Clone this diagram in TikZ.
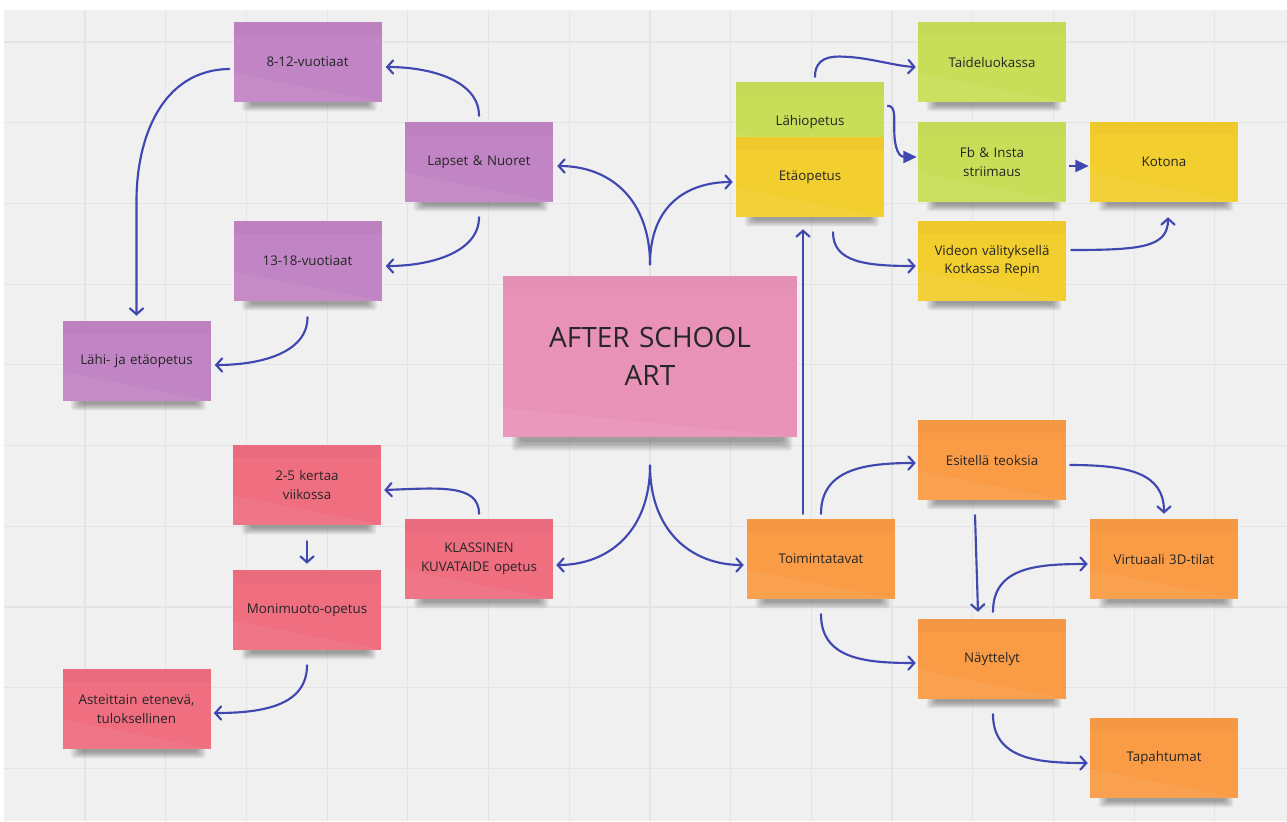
\documentclass[tikz,border=0pt]{standalone}
\usepackage{fontspec}
\setmainfont{Open Sans}
\usetikzlibrary{arrows.meta,calc}
\definecolor{bgc}{HTML}{F0F0F0}
\definecolor{gridc}{HTML}{E4E4E4}
\definecolor{purplec}{HTML}{C184C4}
\definecolor{pinkc}{HTML}{E992B8}
\definecolor{greenc}{HTML}{C8DE58}
\definecolor{yellowc}{HTML}{F2CE2E}
\definecolor{orangec}{HTML}{FA9C46}
\definecolor{redc}{HTML}{EF6E80}
\definecolor{arrowc}{HTML}{4047B0}
\definecolor{textc}{HTML}{262626}
\pgfdeclarelayer{bglayer}
\pgfdeclarelayer{shlayer}
\pgfsetlayers{bglayer,shlayer,main}
\newcommand\noteshadow[2][1]{%
  \foreach \k in {0,...,6} {%
    \fill[black, opacity=0.055, rounded corners=2pt]
      ($(#2.south west)+(9+1.5*\k,-6)$) rectangle ($(#2.south east)+(-5-1.5*\k,{#1*(9-\k)})$);
  }%
}
\begin{document}
\begin{tikzpicture}[x=0.75pt,y=-0.75pt,
  note/.style={rectangle, minimum width=111pt, minimum height=60pt, inner sep=2pt,
    text width=104pt, align=center, font=\fontsize{10}{14}\selectfont, text=textc,
    path picture={\fill[black,opacity=0.018] (path picture bounding box.north west) rectangle ([yshift=-10pt]path picture bounding box.north east);
      \fill[white,opacity=0.06] (path picture bounding box.south west) -- ([yshift=22pt]path picture bounding box.south west) -- (path picture bounding box.south east) -- cycle;}},
  bignote/.style={note, minimum width=220.5pt, minimum height=121pt, text width=200pt,
    font=\fontsize{21}{28.5}\selectfont},
  arr/.style={draw=arrowc, line width=1.6pt, line cap=round, -{Straight Barb[length=4.5pt,width=10pt,line cap=round]}},
  farr/.style={draw=arrowc, line width=1.6pt, -{Triangle[length=10pt,width=9pt]}},
  gridline/.style={draw=gridc, line width=0.9pt}]
\useasboundingbox (0,0) rectangle (1287,821);
\begin{pgfonlayer}{bglayer}
\fill[white] (0,0) rectangle (1287,821);
\fill[bgc] (4,10) rectangle (1287,821);
\foreach \i in {0,...,14} \draw[gridline] ({85+80.7*\i},10) -- ({85+80.7*\i},821);
\foreach \j in {0,...,9} \draw[gridline] (4,{42+80.7*\j}) -- (1287,{42+80.7*\j});
\end{pgfonlayer}

% purple group
\node[note, fill=purplec] (n812) at (307.5,62) {8-12-vuotiaat};
\node[note, fill=purplec] (lapset) at (479,162) {Lapset \& Nuoret};
\node[note, fill=purplec] (n1318) at (307.5,261) {13-18-vuotiaat};
\node[note, fill=purplec] (lahija) at (136.5,361) {Lähi- ja etäopetus};
% main
\node[bignote, fill=pinkc] (main) at (650,356.5) {AFTER SCHOOL\\ART};
% green / yellow
\node[note, fill=greenc] (lahi) at (810,122) {Lähiopetus};
\node[note, fill=yellowc] (eta) at (810,177) {Etäopetus};
\node[note, fill=greenc] (taide) at (992,62) {Taideluokassa};
\node[note, fill=greenc] (fb) at (992,162) {Fb \& Insta\\striimaus};
\node[note, fill=yellowc] (kotona) at (1164,162) {Kotona};
\node[note, fill=yellowc] (video) at (992,261) {Videon välityksellä\\Kotkassa Repin};
% orange
\node[note, fill=orangec] (esit) at (992,460) {Esitellä teoksia};
\node[note, fill=orangec] (virt) at (1164,559) {Virtuaali 3D-tilat};
\node[note, fill=orangec] (toim) at (821,559) {Toimintatavat};
\node[note, fill=orangec] (nayt) at (992,659) {Näyttelyt};
\node[note, fill=orangec] (tapa) at (1164,758) {Tapahtumat};
% red
\node[note, fill=redc] (k25) at (307,485) {2-5 kertaa\\viikossa};
\node[note, fill=redc] (klass) at (479,559) {KLASSINEN\\KUVATAIDE opetus};
\node[note, fill=redc] (moni) at (307,610) {Monimuoto-opetus};
\node[note, fill=redc] (aste) at (136.5,709) {Asteittain etenevä,\\tuloksellinen};

\begin{pgfonlayer}{shlayer}
\foreach \n in {n812,lapset,n1318,lahija,lahi,eta,taide,fb,kotona,video,esit,virt,toim,nayt,tapa,k25,klass,moni,aste} {\noteshadow{\n}}
\noteshadow[1.5]{main}
\end{pgfonlayer}

% connectors, left
\draw[arr] ($(lapset.north)+(0,-6)$) .. controls +(0,-35) and +(45,0) .. ($(n812.east)+(4,5)$);
\draw[arr] ($(lapset.south)+(0,15)$) .. controls +(0,35) and +(45,0) .. ($(n1318.east)+(4,5)$);
\coordinate (bend1) at ($(lahija.north)+(0,-120)$);
\draw[arr] ($(n812.west)+(-4,7)$) .. controls +(-68,1) and +(0,-62) .. (bend1) -- ($(lahija.north)+(0,-5)$);
\draw[arr] ($(n1318.south)+(0,16)$) .. controls +(0,36) and +(45,0) .. ($(lahija.east)+(4,4)$);
% from main
\draw[arr] ($(main.north)+(0,-11)$) .. controls +(0,-65) and +(53,0) .. ($(lapset.east)+(4,4)$);
\draw[arr] ($(main.north)+(0,-11)$) .. controls +(0,-60) and +(-45,0) .. ($(eta.west)+(-3,5)$);
\draw[arr] ($(main.south)+(0,28)$) .. controls +(0,65) and +(53,0) .. ($(klass.east)+(3,6)$);
\draw[arr] ($(main.south)+(0,28)$) .. controls +(0,65) and +(-53,0) .. ($(toim.west)+(-3,6)$);
% right top
\draw[arr] ($(toim.north)+(-18,-5)$) -- ($(eta.south)+(-7,12)$);
\coordinate (peak) at ($(lahi.north)+(35,-25)$);
\draw[arr] ($(lahi.north)+(5,-5)$) .. controls +(0,-19) and +(-15,-1) .. (peak) .. controls +(25,1) and +(-21,-1) .. ($(taide.west)+(-2,5)$);
\coordinate (kink) at ($(lahi.east)+(10,8)$);
\draw[farr] ($(lahi.north east)+(3,24)$) .. controls +(8,0) and +(0,-15) .. (kink) .. controls +(0,20) and +(-17,0) .. ($(fb.west)+(-1,-5)$);
\draw[farr] ($(fb.east)+(3,4)$) -- ($(kotona.west)+(-1,4)$);
\draw[arr] ($(eta.south)+(23,15)$) .. controls +(0,30) and +(-50,0) .. ($(video.west)+(-2,5)$);
\draw[arr] ($(video.east)+(5,-11)$) .. controls +(70,0) and +(0,30) .. ($(kotona.south)+(4,15)$);
% right bottom
\draw[arr] ($(toim.north)+(0,-5)$) .. controls +(0,-45) and +(-50,0) .. ($(esit.west)+(-2,3)$);
\draw[arr] ($(toim.south)+(0,15)$) .. controls +(0,45) and +(-50,0) .. ($(nayt.west)+(-2,4)$);
\draw[arr] ($(esit.east)+(4,5)$) .. controls +(60,0) and +(0,-40) .. ($(virt.north)+(0,-5)$);
\draw[arr] ($(esit.south)+(-17,15)$) -- ($(nayt.north)+(-14,-7)$);
\draw[arr] ($(nayt.north)+(1,-7)$) .. controls +(0,-45) and +(-50,0) .. ($(virt.west)+(-2,5)$);
\draw[arr] ($(nayt.south)+(1,15)$) .. controls +(0,45) and +(-50,0) .. ($(tapa.west)+(-2,5)$);
% left bottom
\draw[arr] ($(klass.north)+(0,-5)$) .. controls +(0,-30) and +(55,-2) .. ($(k25.east)+(3,5)$);
\draw[arr] ($(k25.south)+(0,16)$) -- ($(moni.north)+(0,-6)$);
\draw[arr] ($(moni.south)+(0,15)$) .. controls +(0,40) and +(50,0) .. ($(aste.east)+(3,4)$);
\end{tikzpicture}
\end{document}
